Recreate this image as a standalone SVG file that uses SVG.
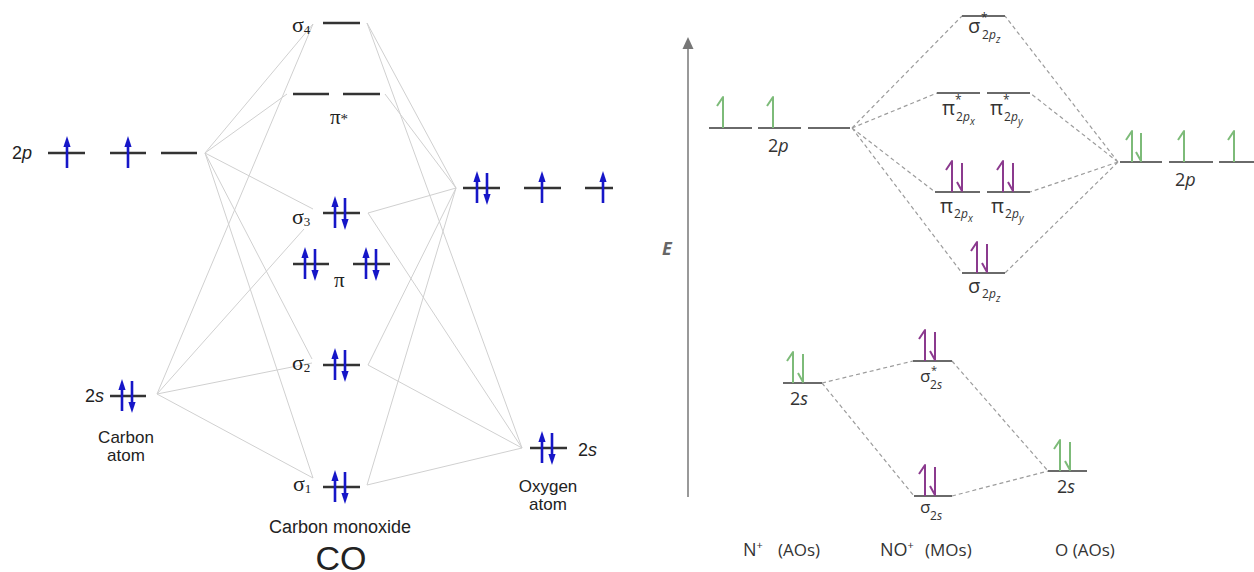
<svg xmlns="http://www.w3.org/2000/svg" width="1254" height="572" viewBox="0 0 1254 572">
<style>
  .lv{stroke:#333;stroke-width:2.5}
  .cn{stroke:#d0d0d0;stroke-width:1;fill:none}
  .sa{font-family:"Liberation Sans",Arial,sans-serif;fill:#222}
  .sr{font-family:"Liberation Serif","Times New Roman",serif;fill:#222}
  .lv2{stroke:#6a6a6a;stroke-width:2.2}
  .dl{stroke:#9c9c9c;stroke-width:1.2;stroke-dasharray:4 3;fill:none}
  .os{font-family:"Open Sans","Liberation Sans",sans-serif;fill:#333}
  .g{stroke:#7dbb79;stroke-width:2;fill:none;stroke-linejoin:round}
  .p{stroke:#8b3a8e;stroke-width:2;fill:none;stroke-linejoin:round}
  .ax{stroke:#777;stroke-width:1.5}
  .it{font-style:italic}
</style>
<defs>
  <!-- spin arrows (left diagram) -->
  <g id="up"><path d="M0,15V-8" stroke="#1616c8" stroke-width="2.6"/><path d="M0,-17L-3.6,-6H3.6Z" fill="#1616c8"/></g>
  <g id="dn"><path d="M0,-15V8" stroke="#1616c8" stroke-width="2.6"/><path d="M0,17L-3.6,6H3.6Z" fill="#1616c8"/></g>
  <!-- half-arrow spins (right diagram) -->
  <path id="hu" d="M0,0V-31L-6,-22"/>
  <path id="hd" d="M0,-29V-1L-5,-10"/>
</defs>

<!-- ============ CO diagram ============ -->
<g id="co-connectors">
  <!-- C 2p -->
  <path class="cn" d="M205,153L313,24M205,153L287,94M205,153L313,209M205,153L312,359M205,153L313,478"/>
  <!-- C 2s -->
  <path class="cn" d="M157,394L313,24M157,394L304,229M157,394L312,363M157,394L313,478"/>
  <!-- O 2p -->
  <path class="cn" d="M456,188L367,23M456,188L385,94M456,188L368,213M456,188L368,365M456,188L367,485"/>
  <!-- O 2s -->
  <path class="cn" d="M522,448L367,23M522,448L368,213M522,448L368,365M522,448L367,485"/>
</g>

<g id="c-2p">
  <text class="sa" x="12" y="159" font-size="18">2<tspan class="it">p</tspan></text>
  <path class="lv" d="M48,153H85M110,153H146M161,153H197"/>
  <use href="#up" x="67" y="153"/>
  <use href="#up" x="128" y="153"/>
</g>

<g id="c-2s">
  <text class="sa" x="85" y="402" font-size="18">2<tspan class="it">s</tspan></text>
  <path class="lv" d="M110,396H146"/>
  <use href="#up" x="122" y="396"/>
  <use href="#dn" x="132" y="396"/>
  <text class="sa" x="126" y="443" font-size="17" text-anchor="middle">Carbon</text>
  <text class="sa" x="126" y="461" font-size="17" text-anchor="middle">atom</text>
</g>

<g id="mo-sigma4">
  <text class="sr" x="292" y="32" font-size="22">σ<tspan font-size="13" dy="2">4</tspan></text>
  <path class="lv" d="M323,23H360"/>
</g>

<g id="mo-pistar">
  <path class="lv" d="M293,94H329M343,94H380"/>
  <text class="sr" x="330" y="124" font-size="21">π<tspan font-size="15">*</tspan></text>
</g>

<g id="mo-sigma3">
  <text class="sr" x="292" y="224" font-size="22">σ<tspan font-size="13" dy="2">3</tspan></text>
  <path class="lv" d="M323,213H360"/>
  <use href="#up" x="335" y="213"/>
  <use href="#dn" x="345" y="213"/>
</g>

<g id="mo-pi">
  <path class="lv" d="M293,264H329M353,264H390"/>
  <use href="#up" x="305" y="264"/>
  <use href="#dn" x="315" y="264"/>
  <use href="#up" x="366" y="264"/>
  <use href="#dn" x="376" y="264"/>
  <text class="sr" x="334" y="287" font-size="21">π</text>
</g>

<g id="mo-sigma2">
  <text class="sr" x="292" y="370" font-size="22">σ<tspan font-size="13" dy="2">2</tspan></text>
  <path class="lv" d="M323,365H360"/>
  <use href="#up" x="335" y="365"/>
  <use href="#dn" x="345" y="365"/>
</g>

<g id="mo-sigma1">
  <text class="sr" x="293" y="491" font-size="22">σ<tspan font-size="13" dy="2">1</tspan></text>
  <path class="lv" d="M323,487H360"/>
  <use href="#up" x="335" y="487"/>
  <use href="#dn" x="345" y="487"/>
</g>

<g id="co-title">
  <text class="sa" x="340" y="533" font-size="18" text-anchor="middle">Carbon monoxide</text>
  <text class="sa" x="341" y="570" font-size="34" text-anchor="middle">CO</text>
</g>

<g id="o-2p">
  <path class="lv" d="M463,188H500M524,188H561M585,188H613"/>
  <use href="#up" x="477" y="188"/>
  <use href="#dn" x="487" y="188"/>
  <use href="#up" x="542" y="188"/>
  <use href="#up" x="603" y="188"/>
</g>

<g id="o-2s">
  <path class="lv" d="M530,448H567"/>
  <use href="#up" x="542" y="448"/>
  <use href="#dn" x="552" y="448"/>
  <text class="sa" x="578" y="456" font-size="18">2<tspan class="it">s</tspan></text>
  <text class="sa" x="548" y="492" font-size="17" text-anchor="middle">Oxygen</text>
  <text class="sa" x="548" y="510" font-size="17" text-anchor="middle">atom</text>
</g>

<!-- ============ NO+ diagram ============ -->
<g id="energy-axis">
  <path class="ax" d="M688,497V47"/>
  <path d="M688,37L682.5,49H693.5Z" fill="#777"/>
  <text x="667" y="255" font-family="Open Sans, Liberation Sans, sans-serif" font-size="18" font-weight="bold" font-style="italic" fill="#666" text-anchor="middle">E</text>
</g>

<g id="no-connectors">
  <path class="dl" d="M852,128L962,16M852,128L937,93M852,128L935,192M852,128L962,273"/>
  <path class="dl" d="M1118,162L1005,16M1118,162L1030,93M1118,162L1030,192M1118,162L1005,273"/>
  <path class="dl" d="M822,383L913,361M822,383L914,496M952,361L1048,471M952,496L1048,471"/>
</g>

<g id="n-2p">
  <path class="lv2" d="M709,128H752M758,128H801M808,128H850"/>
  <use href="#hu" class="g" x="723" y="128"/>
  <use href="#hu" class="g" x="773" y="128"/>
  <text class="os" x="768" y="152" font-size="18">2<tspan class="it">p</tspan></text>
</g>

<g id="n-2s">
  <path class="lv2" d="M783,383H822"/>
  <use href="#hu" class="g" x="793" y="383"/>
  <use href="#hd" class="g" x="803" y="383"/>
  <text class="os" x="790" y="405" font-size="18">2<tspan class="it">s</tspan></text>
</g>

<g id="mo-sigma-star-2pz">
  <path class="lv2" d="M962,16H1005"/>
  <text class="os"><tspan x="968" y="33" font-size="20">σ</tspan><tspan x="981" y="22" font-size="12">*</tspan><tspan x="982" y="39" font-size="12">2<tspan class="it">p</tspan></tspan><tspan x="996" y="43" font-size="10" class="it">z</tspan></text>
</g>

<g id="mo-pi-star-2p">
  <path class="lv2" d="M937,93H980M987,93H1030"/>
  <text class="os"><tspan x="942" y="115" font-size="20">π</tspan><tspan x="955" y="104" font-size="12">*</tspan><tspan x="956" y="121" font-size="12">2<tspan class="it">p</tspan></tspan><tspan x="970" y="125" font-size="10" class="it">x</tspan></text>
  <text class="os"><tspan x="990" y="115" font-size="20">π</tspan><tspan x="1003" y="104" font-size="12">*</tspan><tspan x="1004" y="121" font-size="12">2<tspan class="it">p</tspan></tspan><tspan x="1018" y="125" font-size="10" class="it">y</tspan></text>
</g>

<g id="mo-pi-2p">
  <path class="lv2" d="M935,192H980M987,192H1030"/>
  <use href="#hu" class="p" x="952" y="192"/>
  <use href="#hd" class="p" x="962" y="192"/>
  <use href="#hu" class="p" x="1003" y="192"/>
  <use href="#hd" class="p" x="1013" y="192"/>
  <text class="os"><tspan x="940" y="213" font-size="20">π</tspan><tspan x="954" y="218" font-size="12">2<tspan class="it">p</tspan></tspan><tspan x="968" y="222" font-size="10" class="it">x</tspan></text>
  <text class="os"><tspan x="991" y="213" font-size="20">π</tspan><tspan x="1005" y="218" font-size="12">2<tspan class="it">p</tspan></tspan><tspan x="1019" y="222" font-size="10" class="it">y</tspan></text>
</g>

<g id="mo-sigma-2pz">
  <path class="lv2" d="M962,273H1005"/>
  <use href="#hu" class="p" x="977" y="273"/>
  <use href="#hd" class="p" x="987" y="273"/>
  <text class="os"><tspan x="968" y="293" font-size="20">σ</tspan><tspan x="982" y="298" font-size="12">2<tspan class="it">p</tspan></tspan><tspan x="996" y="302" font-size="10" class="it">z</tspan></text>
</g>

<g id="mo-sigma-star-2s">
  <path class="lv2" d="M913,361H952"/>
  <use href="#hu" class="p" x="925" y="361"/>
  <use href="#hd" class="p" x="935" y="361"/>
  <text class="os"><tspan x="920" y="382" font-size="17">σ</tspan><tspan x="931" y="374" font-size="11">*</tspan><tspan x="930" y="389" font-size="12">2<tspan class="it">s</tspan></tspan></text>
</g>

<g id="mo-sigma-2s">
  <path class="lv2" d="M914,496H952"/>
  <use href="#hu" class="p" x="925" y="496"/>
  <use href="#hd" class="p" x="935" y="496"/>
  <text class="os"><tspan x="920" y="513" font-size="17">σ</tspan><tspan x="930" y="520" font-size="12">2<tspan class="it">s</tspan></tspan></text>
</g>

<g id="o-2p-no">
  <path class="lv2" d="M1120,162H1162M1169,162H1213M1219,162H1262"/>
  <use href="#hu" class="g" x="1132" y="162"/>
  <use href="#hd" class="g" x="1141" y="162"/>
  <use href="#hu" class="g" x="1184" y="162"/>
  <use href="#hu" class="g" x="1234" y="162"/>
  <text class="os" x="1175" y="186" font-size="18">2<tspan class="it">p</tspan></text>
</g>

<g id="o-2s-no">
  <path class="lv2" d="M1048,471H1087"/>
  <use href="#hu" class="g" x="1060" y="471"/>
  <use href="#hd" class="g" x="1070" y="471"/>
  <text class="os" x="1057" y="493" font-size="18">2<tspan class="it">s</tspan></text>
</g>

<g id="no-captions">
  <text class="os" x="743" y="556" font-size="18" fill="#222">N<tspan font-size="11" dy="-7">+</tspan></text>
  <text class="os" x="778" y="556" font-size="17" fill="#888">(AOs)</text>
  <text class="os" x="880" y="556" font-size="18" fill="#222">NO<tspan font-size="11" dy="-7">+</tspan></text>
  <text class="os" x="925" y="556" font-size="17" fill="#888">(MOs)</text>
  <text class="os" x="1055" y="556" font-size="17" fill="#888">O (AOs)</text>
</g>
</svg>
